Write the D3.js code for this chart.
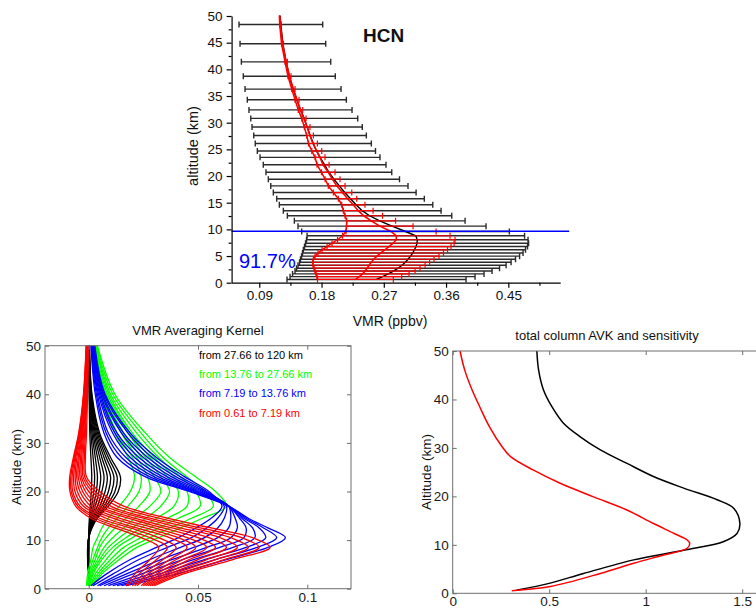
<!DOCTYPE html>
<html><head><meta charset="utf-8">
<script src="https://cdn.jsdelivr.net/npm/d3@7"></script>
<style>
body{margin:0;background:#fff}
svg{display:block}
text{font-family:"Liberation Sans",Arial,sans-serif}
</style>
</head><body>
<svg id="c" width="756" height="609"></svg>
<script>
// ---------- top panel: HCN profiles ----------
const levels = [0.61,1.13,1.65,2.18,2.72,3.27,3.83,4.40,4.98,5.57,6.17,6.78,7.40,8.05,8.80,9.60,10.6,11.6,12.55,13.5,14.6,15.75,16.9,18.15,19.4,20.7,22.1,23.5,24.7,26.1,27.6,29.2,30.8,32.4,34.3,36.3,38.7,41.4,44.8,48.4,52.0];
const aprioriVmr = [0.2595,0.2682,0.2765,0.2841,0.2906,0.2964,0.3011,0.3050,0.3087,0.3119,0.3143,0.3166,0.3181,0.3184,0.3163,0.3014,0.2819,0.2641,0.2494,0.2388,0.2299,0.2219,0.2135,0.2058,0.1979,0.1906,0.1845,0.1778,0.1726,0.1681,0.1634,0.1592,0.1550,0.1496,0.1443,0.1388,0.1334,0.1287,0.1241,0.1212,0.1185];
const aprioriErr = [0.1294,0.1337,0.1384,0.1424,0.1467,0.1504,0.1529,0.1554,0.1576,0.1594,0.1606,0.1612,0.1612,0.1601,0.1572,0.1501,0.1359,0.1234,0.1188,0.1140,0.1109,0.1067,0.1032,0.0992,0.0948,0.0909,0.0887,0.0867,0.0854,0.0839,0.0814,0.0797,0.0773,0.0745,0.0716,0.0694,0.0665,0.0646,0.0619,0.0605,0.0590];
const retrievedVmr = [0.2290,0.2347,0.2393,0.2429,0.2458,0.2487,0.2518,0.2554,0.2602,0.2656,0.2714,0.2776,0.2834,0.2881,0.2881,0.2805,0.2642,0.2517,0.2411,0.2330,0.2260,0.2176,0.2104,0.2019,0.1959,0.1897,0.1822,0.1778,0.1731,0.1676,0.1634,0.1592,0.1545,0.1496,0.1446,0.1393,0.1337,0.1289,0.1236,0.1207,0.1185];
const retrievedErr = [0.0548,0.0612,0.0672,0.0723,0.0766,0.0810,0.0844,0.0872,0.0896,0.0907,0.0907,0.0896,0.0882,0.0849,0.0777,0.0651,0.0481,0.0353,0.0271,0.0215,0.0168,0.0133,0.0133,0.0121,0.0108,0.0098,0.0087,0.0072,0.0072,0.0064,0.0048,0.0041,0.0031,0.0032,0.0029,0.0024,0.0022,0.0017,0.0014,0.0012,0.0];
const topXTicks = [0.09,0.18,0.27,0.36,0.45];
const topXMinor = [0.135,0.225,0.315,0.405,0.495];
const topYTicks = [0,5,10,15,20,25,30,35,40,45,50];
const topYMinor = [2.5,7.5,12.5,17.5,22.5,27.5,32.5,37.5,42.5,47.5];
const tropoAlt = 9.65;
const tropoRange = [0.05, 0.538];
const dofsText = "91.7%";
const speciesText = "HCN";

// ---------- bottom-left: VMR averaging kernels ----------
const avkAlt = [0.61, 3, 6, 8.5, 10.5, 12.5, 14.5, 17, 20, 23, 27, 32, 40, 50];
const avkBlack = [
 [0.0,0.0,-0.0005,-0.0005,0.0,0.0015,0.004,0.009,0.0135,0.0145,0.010,0.005,0.0015,0.0003],
 [0.0,0.0,-0.0004,-0.0004,0.0,0.0013,0.0035,0.008,0.012,0.013,0.009,0.0045,0.0013,0.0003],
 [0.0,0.0,-0.0003,-0.0003,0.0,0.0011,0.003,0.007,0.0105,0.0115,0.008,0.004,0.0012,0.0003],
 [0.0,0.0,-0.0003,-0.0002,0.0,0.001,0.0026,0.006,0.009,0.010,0.007,0.0035,0.001,0.0002],
 [0.0,0.0,-0.0002,-0.0002,0.0,0.0008,0.0022,0.005,0.0075,0.0085,0.006,0.003,0.0009,0.0002],
 [0.0,0.0,-0.0002,-0.0001,0.0,0.0007,0.0018,0.004,0.006,0.007,0.005,0.0025,0.0008,0.0002],
 [0.0,0.0,-0.0001,-0.0001,0.0,0.0005,0.0014,0.003,0.0047,0.0055,0.004,0.002,0.0006,0.0001],
 [0.0,0.0,-0.0001,0.0,0.0,0.0004,0.001,0.0022,0.0035,0.004,0.003,0.0015,0.0005,0.0001],
 [0.0,0.0,0.0,0.0,0.0,0.0002,0.0006,0.0014,0.0023,0.0027,0.002,0.001,0.0003,0.0001],
 [0.0,0.0,0.0,0.0,0.0,0.0001,0.0003,0.0007,0.0012,0.0014,0.001,0.0005,0.0002,0.0]
];
const avkGreen = [
 [0.002,0.006,0.014,0.022,0.032,0.042,0.052,0.063,0.058,0.049,0.037,0.026,0.012,0.004],
 [0.0015,0.005,0.012,0.019,0.028,0.037,0.047,0.057,0.053,0.045,0.034,0.024,0.011,0.0037],
 [0.001,0.004,0.010,0.016,0.024,0.032,0.041,0.051,0.049,0.042,0.032,0.022,0.010,0.0034],
 [0.0008,0.003,0.008,0.013,0.020,0.028,0.036,0.045,0.045,0.039,0.030,0.020,0.0093,0.0031],
 [0.0005,0.002,0.006,0.011,0.017,0.024,0.031,0.039,0.041,0.036,0.028,0.019,0.0086,0.0028],
 [0.0002,0.0015,0.005,0.009,0.014,0.020,0.026,0.033,0.037,0.033,0.026,0.018,0.008,0.0025],
 [0.0,0.001,0.004,0.007,0.011,0.016,0.021,0.028,0.033,0.030,0.024,0.016,0.0072,0.0022],
 [-0.0003,0.0005,0.003,0.005,0.008,0.012,0.017,0.023,0.028,0.027,0.022,0.015,0.0065,0.002],
 [-0.0006,0.0,0.002,0.004,0.006,0.009,0.013,0.018,0.023,0.024,0.020,0.013,0.006,0.0017],
 [-0.001,-0.0005,0.001,0.002,0.004,0.006,0.009,0.014,0.019,0.021,0.018,0.012,0.0055,0.0015]
];
const avkBlue = [
 [0.017,0.040,0.063,0.082,0.090,0.082,0.073,0.064,0.046,0.026,0.013,0.007,0.003,0.001],
 [0.015,0.036,0.058,0.077,0.086,0.080,0.072,0.064,0.047,0.028,0.015,0.008,0.0035,0.0012],
 [0.013,0.032,0.053,0.072,0.081,0.078,0.071,0.064,0.048,0.030,0.017,0.009,0.004,0.0014],
 [0.011,0.028,0.048,0.066,0.076,0.075,0.070,0.064,0.049,0.032,0.019,0.011,0.0045,0.0016],
 [0.009,0.024,0.043,0.060,0.071,0.072,0.069,0.064,0.050,0.034,0.021,0.012,0.005,0.0018],
 [0.007,0.020,0.038,0.054,0.065,0.068,0.067,0.064,0.051,0.036,0.023,0.013,0.0055,0.002],
 [0.005,0.017,0.033,0.048,0.059,0.064,0.065,0.064,0.052,0.038,0.025,0.015,0.006,0.0022],
 [0.004,0.014,0.028,0.042,0.053,0.059,0.062,0.063,0.053,0.040,0.027,0.016,0.0065,0.0024],
 [0.002,0.011,0.023,0.036,0.047,0.054,0.059,0.062,0.054,0.042,0.029,0.018,0.007,0.0026],
 [0.001,0.008,0.019,0.031,0.041,0.049,0.056,0.061,0.055,0.044,0.031,0.019,0.0075,0.0028]
];
const avkRed = [
 [0.030,0.043,0.066,0.083,0.075,0.056,0.036,0.016,0.005,-0.001,-0.0015,-0.001,-0.0005,0.0],
 [0.029,0.041,0.062,0.078,0.070,0.051,0.032,0.013,0.003,-0.0018,-0.002,-0.0015,-0.0008,-0.0002],
 [0.028,0.039,0.058,0.073,0.065,0.047,0.028,0.010,0.0015,-0.0026,-0.0026,-0.0019,-0.001,-0.0003],
 [0.027,0.037,0.054,0.068,0.060,0.042,0.025,0.0075,0.0,-0.0033,-0.0032,-0.0023,-0.0012,-0.0004],
 [0.026,0.035,0.050,0.063,0.055,0.038,0.021,0.005,-0.0015,-0.0040,-0.0037,-0.0027,-0.0014,-0.0005],
 [0.025,0.033,0.046,0.058,0.050,0.034,0.018,0.003,-0.0028,-0.0048,-0.0043,-0.0030,-0.0016,-0.0006],
 [0.024,0.031,0.043,0.054,0.045,0.030,0.014,0.001,-0.0040,-0.0055,-0.0048,-0.0033,-0.0018,-0.0007],
 [0.022,0.029,0.040,0.049,0.041,0.026,0.011,-0.001,-0.0052,-0.0062,-0.0054,-0.0036,-0.0020,-0.0008],
 [0.021,0.027,0.037,0.045,0.037,0.022,0.008,-0.0025,-0.0063,-0.0069,-0.0059,-0.0039,-0.0021,-0.0009],
 [0.020,0.025,0.034,0.040,0.032,0.019,0.005,-0.004,-0.0073,-0.0076,-0.0063,-0.0042,-0.0022,-0.0010],
 [0.018,0.023,0.031,0.036,0.028,0.015,0.003,-0.005,-0.0080,-0.0082,-0.0067,-0.0044,-0.0023,-0.0011],
 [0.017,0.021,0.028,0.032,0.024,0.012,0.001,-0.006,-0.0086,-0.0087,-0.0070,-0.0046,-0.0024,-0.0012]
];
const avkLegend = ["from 27.66 to 120 km","from 13.76 to 27.66 km","from 7.19 to 13.76 km","from 0.61 to 7.19 km"];
const avkColors = ["#000000","#00ff00","#0000ff","#ff0000"];
const avkXTicks = [0, 0.05, 0.1];
const avkYTicks = [0,10,20,30,40,50];

// ---------- bottom-right: total column AVK and sensitivity ----------
const colAlt = [0.61,2.1,4.1,6.9,8.9,10.7,12.4,14.4,17.5,19.3,21.7,24.1,26.8,29.6,32.3,35.1,38.5,42,46.1,50];
const colAvk = [0.33,0.505,0.678,0.938,1.197,1.405,1.474,1.488,1.457,1.37,1.197,1.04,0.903,0.765,0.661,0.574,0.514,0.47,0.445,0.436];
const sensAlt = [0.55,1.4,4.1,6.2,7.9,9.3,10.3,11,12.4,14.4,17.2,19.9,22.7,25.4,28.2,30.3,34.4,38.5,42,46.1,50];
const sensVal = [0.306,0.505,0.765,0.938,1.093,1.215,1.228,1.215,1.145,1.04,0.903,0.73,0.557,0.419,0.30,0.255,0.19,0.14,0.10,0.062,0.038];
const colXTicks = [0,0.5,1,1.5];
const colYTicks = [0,10,20,30,40,50];

// =====================================================
const svg = d3.select("#c");

// ---------- TOP PANEL ----------
const xT = d3.scaleLinear().domain([0.05, 0.525]).range([231.6, 560.2]);
const yT = d3.scaleLinear().domain([0, 50]).range([282.7, 16]);
const topG = svg.append("g");
svg.append("clipPath").attr("id","clipTop").append("rect")
  .attr("x", xT(0.05)).attr("y", yT(50)-0.5).attr("width", 345).attr("height", yT(0)-yT(50)+1);
const plotT = topG.append("g").attr("clip-path","url(#clipTop)");

const bars = levels.map((a,i)=>({a, c:aprioriVmr[i], e:aprioriErr[i], rc:retrievedVmr[i], re:retrievedErr[i]}));
function drawBars(g, cKey, eKey, color, w){
  const gg = g.append("g").attr("stroke", color).attr("stroke-width", w).attr("fill","none");
  gg.selectAll("line.h").data(bars).join("line").attr("class","h")
    .attr("x1", d=>xT(d[cKey]-d[eKey])).attr("x2", d=>xT(d[cKey]+d[eKey]))
    .attr("y1", d=>yT(d.a)).attr("y2", d=>yT(d.a));
  gg.selectAll("line.l").data(bars).join("line").attr("class","l")
    .attr("x1", d=>xT(d[cKey]-d[eKey])).attr("x2", d=>xT(d[cKey]-d[eKey]))
    .attr("y1", d=>yT(d.a)-3).attr("y2", d=>yT(d.a)+3);
  gg.selectAll("line.r").data(bars).join("line").attr("class","r")
    .attr("x1", d=>xT(d[cKey]+d[eKey])).attr("x2", d=>xT(d[cKey]+d[eKey]))
    .attr("y1", d=>yT(d.a)-3).attr("y2", d=>yT(d.a)+3);
}
drawBars(plotT, "c", "e", "#2a2a2a", 1.4);
plotT.append("path").datum(bars).attr("fill","none").attr("stroke","#000").attr("stroke-width",1.4)
  .attr("d", d3.line().y(d=>yT(d.a)).x(d=>xT(d.c)));
drawBars(plotT, "rc", "re", "#ff0000", 1.2);
plotT.append("path").datum(bars).attr("fill","none").attr("stroke","#ff0000").attr("stroke-width",1.5)
  .attr("d", d3.line().y(d=>yT(d.a)).x(d=>xT(d.rc-d.re)));
plotT.append("path").datum(bars).attr("fill","none").attr("stroke","#ff0000").attr("stroke-width",1.6)
  .attr("d", d3.line().y(d=>yT(d.a)).x(d=>xT(d.rc)));

topG.append("line").attr("x1", xT(tropoRange[0])).attr("x2", xT(tropoRange[1]))
  .attr("y1", yT(tropoAlt)).attr("y2", yT(tropoAlt)).attr("stroke","#0000ff").attr("stroke-width",1.5);

// axes
const fmt2 = d3.format(".2f");
const gxT = topG.append("g").attr("transform",`translate(0,${yT(0)})`)
  .call(d3.axisBottom(xT).tickValues(topXTicks).tickSizeInner(5).tickSizeOuter(0).tickPadding(3).tickFormat(fmt2));
const gxTm = topG.append("g").attr("transform",`translate(0,${yT(0)})`)
  .call(d3.axisBottom(xT).tickValues(topXMinor).tickSizeInner(3).tickSizeOuter(0).tickFormat(""));
gxTm.select(".domain").remove();
const gyT = topG.append("g").attr("transform",`translate(${xT(0.05)},0)`)
  .call(d3.axisLeft(yT).tickValues(topYTicks).tickSizeInner(5).tickSizeOuter(0).tickPadding(4));
const gyTm = topG.append("g").attr("transform",`translate(${xT(0.05)},0)`)
  .call(d3.axisLeft(yT).tickValues(topYMinor).tickSizeInner(3).tickSizeOuter(0).tickFormat(""));
gyTm.select(".domain").remove();
[gxT,gxTm,gyT,gyTm].forEach(g=>{
  g.attr("font-family",null).attr("font-size",null);
  g.selectAll("path,line").attr("stroke","#000").attr("stroke-width",1.2);
  g.selectAll("text").attr("font-size","13.5px").attr("fill","#111");
});

topG.append("text").attr("x", 390).attr("y", 326).attr("text-anchor","middle")
  .attr("font-size","14px").attr("fill","#111").text("VMR (ppbv)");
topG.append("text").attr("transform","translate(198,146) rotate(-90)").attr("text-anchor","middle")
  .attr("font-size","14.5px").attr("fill","#111").text("altitude (km)");
topG.append("text").attr("x", 363).attr("y", 42).attr("font-size","19px").attr("font-weight","bold")
  .attr("fill","#111").text(speciesText);
topG.append("text").attr("x", 239).attr("y", 268).attr("font-size","20px")
  .attr("fill","#0000ff").text(dofsText);

// ---------- matlab-style axes helper ----------
function mlAxes(g, x, y, xt, yt, xfmt, padX){
  const [x0,x1] = x.range(), [y0,y1] = y.range();
  g.append("rect").attr("x",x0).attr("y",y1).attr("width",x1-x0).attr("height",y0-y1)
    .attr("fill","none").attr("stroke","#6e6e6e").attr("stroke-width",1);
  const ax = [
    g.append("g").attr("transform",`translate(0,${y0})`).call(d3.axisBottom(x).tickValues(xt).tickSizeInner(-4).tickSizeOuter(0).tickPadding(padX).tickFormat(xfmt)),
    g.append("g").attr("transform",`translate(0,${y1})`).call(d3.axisTop(x).tickValues(xt).tickSizeInner(-4).tickSizeOuter(0).tickFormat("")),
    g.append("g").attr("transform",`translate(${x0},0)`).call(d3.axisLeft(y).tickValues(yt).tickSizeInner(-4).tickSizeOuter(0).tickPadding(4)),
    g.append("g").attr("transform",`translate(${x1},0)`).call(d3.axisRight(y).tickValues(yt).tickSizeInner(-4).tickSizeOuter(0).tickFormat(""))
  ];
  ax.forEach(a=>{
    a.select(".domain").remove();
    a.attr("font-family",null).attr("font-size",null);
    a.selectAll("line").attr("stroke","#6e6e6e");
    a.selectAll("text").attr("font-size","13.5px").attr("fill","#1a1a1a");
  });
}

// ---------- AVK PANEL ----------
const xA = d3.scaleLinear().domain([-0.02, 0.12]).range([45, 351]);
const yA = d3.scaleLinear().domain([0, 50]).range([588.7, 345.7]);
const avkG = svg.append("g");
const avkLine = d3.line().x(v=>xA(v)).y((v,i)=>yA(avkAlt[i])).curve(d3.curveCatmullRom.alpha(0.5));
[[avkBlack,avkColors[0]],[avkGreen,avkColors[1]],[avkBlue,avkColors[2]],[avkRed,avkColors[3]]].forEach(([fam,colr])=>{
  avkG.append("g").selectAll("path").data(fam).join("path")
    .attr("fill","none").attr("stroke",colr).attr("stroke-width",1.3).attr("d", avkLine);
});
mlAxes(avkG, xA, yA, avkXTicks, avkYTicks, d3.format("~g"), 3.5);
avkG.append("text").attr("x",198).attr("y",335).attr("text-anchor","middle").attr("font-size","13px")
  .attr("fill","#111").text("VMR Averaging Kernel");
avkG.append("text").attr("transform","translate(21,467) rotate(-90)").attr("text-anchor","middle")
  .attr("font-size","13.5px").attr("fill","#111").text("Altitude (km)");
avkG.selectAll("text.leg").data(avkLegend).join("text").attr("class","leg")
  .attr("x",199).attr("y",(d,i)=>359+i*19.2).attr("font-size","11px")
  .attr("fill",(d,i)=>avkColors[i]).text(d=>d);

// ---------- COLUMN PANEL ----------
const xC = d3.scaleLinear().domain([0, 1.6]).range([452.7, 761.5]);
const yC = d3.scaleLinear().domain([0, 50]).range([593.3, 351]);
const colG = svg.append("g");
const cLine = d3.line().curve(d3.curveCatmullRom.alpha(0.5));
colG.append("path").datum(colAvk.map((v,i)=>[xC(v), yC(colAlt[i])])).attr("fill","none")
  .attr("stroke","#000").attr("stroke-width",1.5).attr("d", cLine);
colG.append("path").datum(sensVal.map((v,i)=>[xC(v), yC(sensAlt[i])])).attr("fill","none")
  .attr("stroke","#ff0000").attr("stroke-width",1.5).attr("d", cLine);
mlAxes(colG, xC, yC, colXTicks, colYTicks, d3.format("~g"), 3.5);
colG.append("text").attr("x",607).attr("y",340).attr("text-anchor","middle").attr("font-size","13px")
  .attr("fill","#111").text("total column AVK and sensitivity");
colG.append("text").attr("transform","translate(431,472) rotate(-90)").attr("text-anchor","middle")
  .attr("font-size","13.5px").attr("fill","#111").text("Altitude (km)");
</script>
</body></html>
